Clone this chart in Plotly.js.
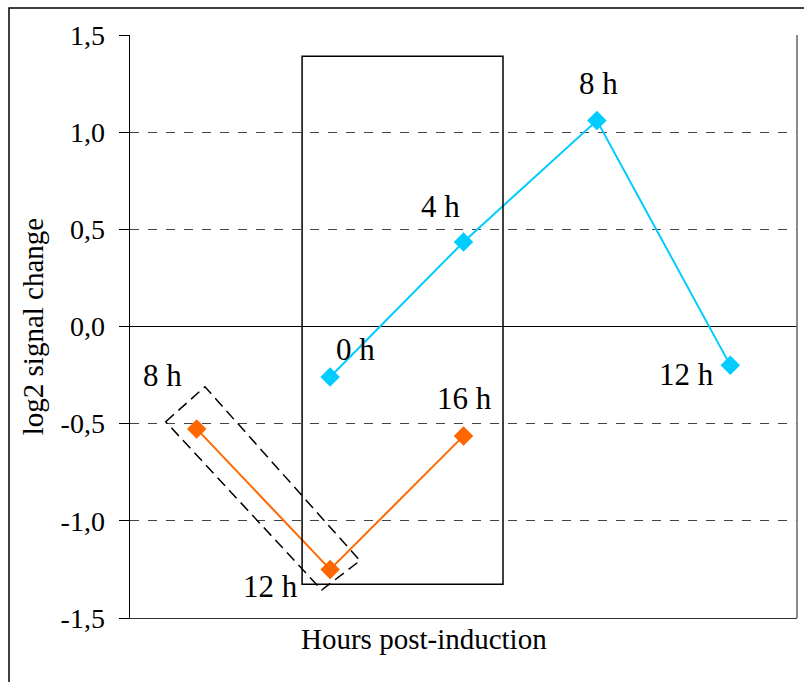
<!DOCTYPE html>
<html><head><meta charset="utf-8">
<script src="https://cdn.plot.ly/plotly-3.0.1.min.js"></script>
<style>html,body{margin:0;padding:0;background:#fff}#chart{width:804px;height:682px}</style>
</head><body><div id="chart"></div>
<script>
// Data
const cyanX = [1, 2, 3, 4];
const cyanY = [-0.26, 0.435, 1.06, -0.20];
const cyanLabels = ['0 h', '4 h', '8 h', '12 h'];
const orangeX = [0, 1, 2];
const orangeY = [-0.527, -1.25, -0.563];
const orangeLabels = ['8 h', '12 h', '16 h'];
const yTickVals = [-1.5, -1.0, -0.5, 0, 0.5, 1.0, 1.5];
const yTickText = ['-1,5', '-1,0', '-0,5', '0,0', '0,5', '1,0', '1,5'];

// label positions (data coords)
const cyanLabelPos = [[1.187, -0.12], [1.83, 0.615], [3.01, 1.25], [3.67, -0.245]];
const orangeLabelPos = [[-0.26, -0.25], [0.55, -1.34], [2.01, -0.368]];

const serif = '"Liberation Serif", "Times New Roman", serif';

const traces = [
  {x: cyanX, y: cyanY, type: 'scatter', mode: 'lines+markers',
   line: {color: '#00CCFF', width: 2}, marker: {symbol: 'diamond', size: 15, color: '#00CCFF'}},
  {x: orangeX, y: orangeY, type: 'scatter', mode: 'lines+markers',
   line: {color: '#FF6600', width: 2}, marker: {symbol: 'diamond', size: 15, color: '#FF6600'}}
];

const annotations = [];
cyanLabels.forEach((t, i) => annotations.push({x: cyanLabelPos[i][0], y: cyanLabelPos[i][1], text: t, showarrow: false, font: {family: serif, size: 31, color: '#000'}}));
orangeLabels.forEach((t, i) => annotations.push({x: orangeLabelPos[i][0], y: orangeLabelPos[i][1], text: t, showarrow: false, font: {family: serif, size: 31, color: '#000'}}));
annotations.push({xref: 'paper', yref: 'paper', x: 0.441, y: -0.067, text: 'Hours post-induction', showarrow: false, font: {family: serif, size: 29, color: '#000'}});

const layout = {
  width: 804, height: 682,
  margin: {l: 130, r: 7, t: 35, b: 64},
  paper_bgcolor: '#fff', plot_bgcolor: '#fff',
  showlegend: false,
  font: {family: serif, size: 28, color: '#000'},
  xaxis: {range: [-0.5, 4.5], showticklabels: false, ticks: '', showgrid: false, zeroline: false,
          showline: true, linecolor: '#333', linewidth: 1, mirror: false},
  yaxis: {range: [-1.5, 1.5], tickvals: yTickVals, ticktext: yTickText, ticks: 'outside', ticklen: 10,
          ticklabelstandoff: 8,
          tickcolor: '#000', tickfont: {family: serif, size: 28}, showline: true, linecolor: '#000', linewidth: 1.5,
          showgrid: true, gridcolor: '#444', griddash: 'dash', gridwidth: 1,
          zeroline: true, zerolinecolor: '#000', zerolinewidth: 1.2,
          title: {text: 'log2 signal change', font: {family: serif, size: 29}, standoff: 8}},
  annotations: annotations,
  shapes: [
    {type: 'rect', xref: 'paper', yref: 'paper', x0: -0.1814, x1: 1.2, y0: -0.3, y1: 1.0463, line: {color: '#000', width: 1.5}, layer: 'below'},
    {type: 'line', xref: 'paper', yref: 'paper', x0: 1, x1: 1, y0: 0, y1: 1, line: {color: '#666', width: 1.5}},
    {type: 'rect', xref: 'x', yref: 'y', x0: 0.79, x1: 2.296, y0: -1.326, y1: 1.391, line: {color: '#000', width: 1.5}},
    {type: 'path', xref: 'paper', yref: 'paper', path: 'M 0.0535 0.3367 L 0.1124 0.3967 L 0.3448 0.0983 L 0.2874 0.0480 Z', line: {color: '#000', width: 1.5, dash: '11px,6px'}}
  ]
};
Plotly.newPlot('chart', traces, layout, {displayModeBar: false, staticPlot: true});
</script></body></html>
